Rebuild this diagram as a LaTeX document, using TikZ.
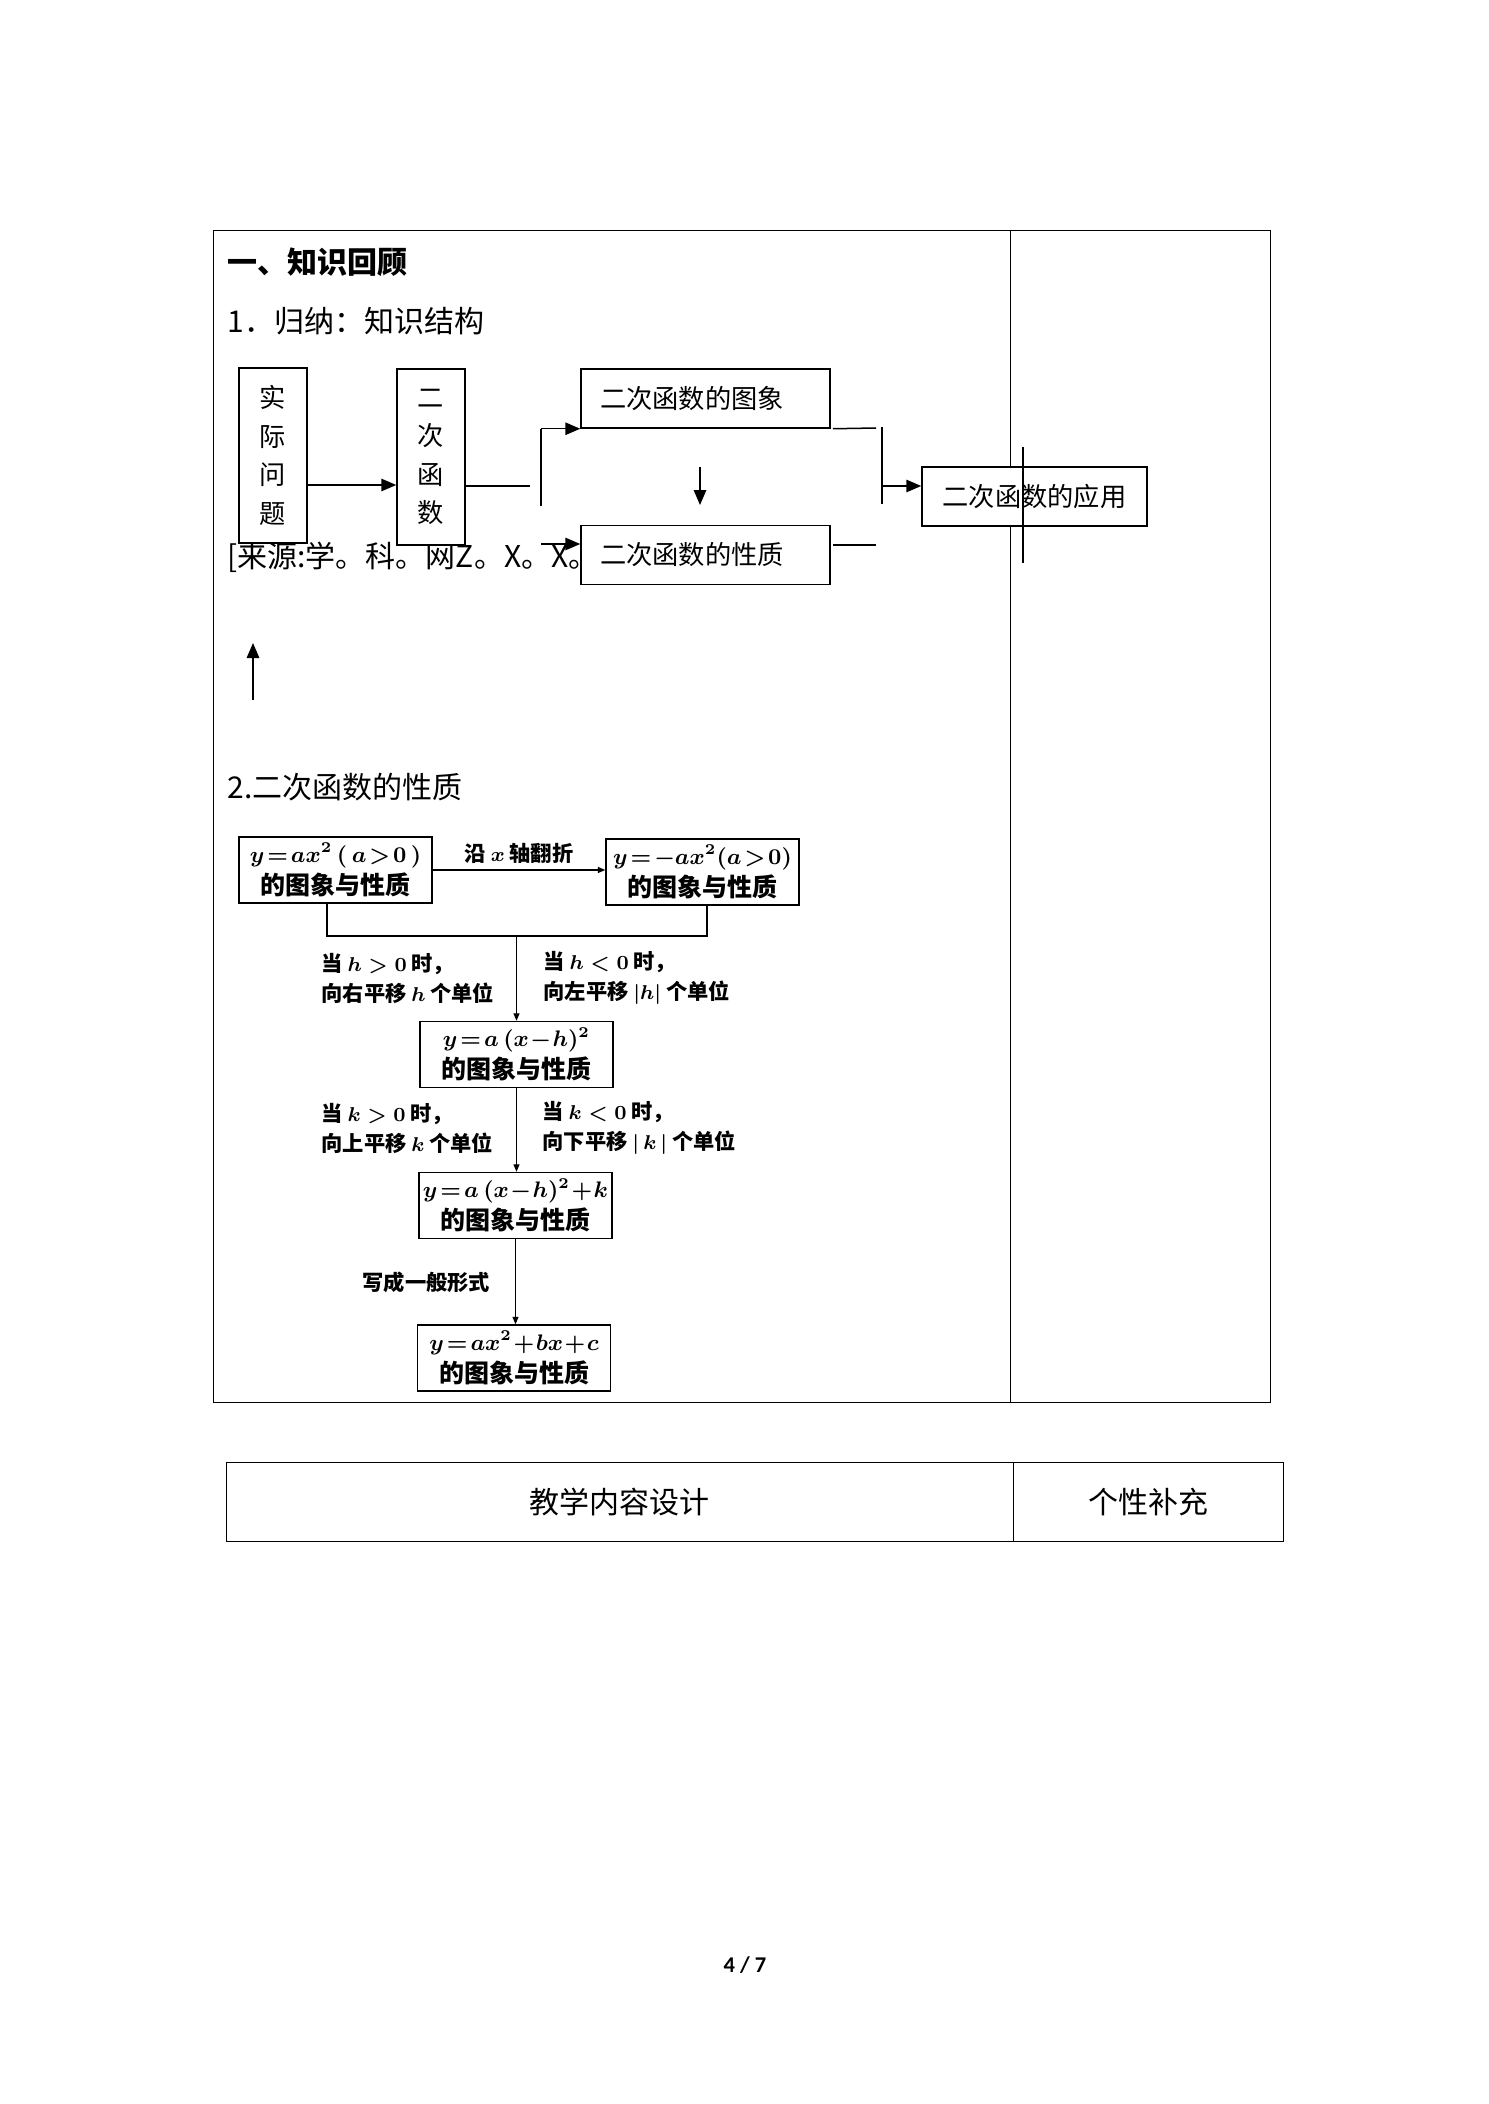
\documentclass[tikz,border=0pt]{standalone}
\usepackage[no-math]{fontspec}
\setmainfont{Noto Sans CJK SC}
\newfontfamily\pagefont{Carlito}
\usetikzlibrary{arrows.meta}
\newcommand\tightmath{\thickmuskip=2mu\relax\medmuskip=1mu\relax}
\newcommand\fml[1]{{\fontsize{8.8}{12.8}\selectfont$#1$}}

\begin{document}
\begin{tikzpicture}[x=0.4pt,y=-0.4pt,
  kbox/.style={draw,line width=0.6pt,fill=white,inner sep=0pt,font=\fontsize{10.5}{15.4}\selectfont},
  pbox/.style={draw,line width=0.55pt,minimum width=77.2pt,minimum height=26.4pt,inner sep=0pt,align=center,
    font=\bfseries\boldmath\fontsize{10}{12.8}\selectfont\tightmath},
  plabel/.style={anchor=west,inner sep=0pt,align=left,font=\bfseries\boldmath\fontsize{8.5}{12}\selectfont},
  txt/.style={anchor=west,inner sep=0pt,font=\fontsize{12}{14}\selectfont},
  karr/.style={line width=0.6pt,-{Triangle[length=6pt,width=5pt]}},
  kline/.style={line width=0.6pt},
  parr/.style={line width=0.45pt,-{Triangle[length=3pt,width=2.4pt]}},
  pline/.style={line width=0.45pt}]
\useasboundingbox (0,0) rectangle (1488,2104);

% page table
\draw[line width=0.4pt] (213,231) rectangle (1270,1402);
\draw[line width=0.4pt] (1010,231) -- (1010,1402);

\node[txt,font=\bfseries\fontsize{12}{14}\selectfont] (t1) at (227,262) {一、知识回顾};
\node[txt] (t2) at (227,321) {1．归纳：知识结构};
\node[txt] (src) at (227,557) {[来源:学。科。网Z。X。X。};

% knowledge structure
\node[kbox,minimum width=27.2pt,minimum height=70pt,align=center] (shi) at (273,455.5) {实\\际\\问\\题};
\node[kbox,minimum width=27.2pt,minimum height=70.4pt,align=center] (er) at (431,457) {二\\次\\函\\数};
\node[kbox,minimum height=23.6pt,text width=84.4pt,inner xsep=7.6pt,align=left] (tu) at (705.5,398.5) {二次函数的图象};
\node[kbox,minimum height=23.6pt,text width=84.4pt,inner xsep=7.6pt,align=left] (xz) at (705.5,555) {二次函数的性质};
\node[kbox,minimum width=90pt,minimum height=23.6pt] (yy) at (1034.5,496.5) {二次函数的应用};

\coordinate (r1) at (0,485);
\draw[karr] (shi.east |- r1) -- (er.west |- r1);
\coordinate (m1) at (530,486);
\draw[kline] (er.east |- m1) -- (m1);
\coordinate (b1) at (541,506);
\draw[kline] (b1) -- (b1 |- tu.south);
\draw[karr] (b1 |- tu.south) -- (tu.south west);
\coordinate (b2) at (541,544);
\draw[karr] (b2) -- (xz.west |- b2);
\coordinate (d1) at (700,467);
\coordinate (d2) at (700,505);
\draw[karr] (d1) -- (d2);

\coordinate (c1) at (876,428);
\draw[kline] ([xshift=0.8pt]tu.south east) -- (c1);
\coordinate (c2) at (882,427);
\coordinate (c3) at (882,504);
\draw[kline] (c2) -- (c3);
\coordinate (c4) at (882,486);
\draw[karr] (c4) -- (yy.west |- c4);
\coordinate (c5) at (876,545);
\draw[kline] ([xshift=0.8pt]xz.east |- c5) -- (c5);
\coordinate (x1) at (1023,447);
\coordinate (x2) at (1023,563);
\draw[kline] (x1) -- (x2);

\coordinate (u1) at (253,700);
\coordinate (u2) at (253,643);
\draw[karr] (u1) -- (u2);

% properties
\node[txt] (t3) at (227,787) {2.二次函数的性质};

\node[pbox] (pa) at (335.5,870) {\fml{y=ax^2\,(\,a>0\,)}\\的图象与性质};
\node[pbox] (pb) at (702.5,872) {\fml{y=-ax^2(a>0)}\\的图象与性质};
\draw[parr] (pa.east) -- (pb.west |- pa.east);
\node[plabel,anchor=center] (fz) at (519,853) {沿 $x$ 轴翻折};

\coordinate (j) at (516.5,936);
\draw[pline] ([xshift=-3.4pt]pa.south) |- (j);
\draw[pline] ([xshift=1.8pt]pb.south) |- (j);
\node[pbox] (pc) at (516.5,1054.5) {\fml{y=a\,(x-h)^2}\\的图象与性质};
\draw[parr] (j) -- (pc.north);
\node[plabel] (h1) at (321,978) {当 $h>0$ 时，\\向右平移 $h$ 个单位};
\node[plabel] (h2) at (543,978) {当 $h<0$ 时，\\向左平移 $|h|$ 个单位};

\node[pbox] (pd) at (515.5,1205.5) {\fml{y=a\,(x-h)^2+k}\\的图象与性质};
\draw[parr] (pc.south) -- (pc.south |- pd.north);
\node[plabel] (k1) at (321,1128) {当 $k>0$ 时，\\向上平移 $k$ 个单位};
\node[plabel] (k2) at (542,1128) {当 $k<0$ 时，\\向下平移 $|\,k\,|$ 个单位};

\node[pbox] (pe) at (514,1358) {\fml{y=ax^2+bx+c}\\的图象与性质};
\draw[parr] (pd.south) -- (pd.south |- pe.north);
\node[plabel] (yb) at (362,1282) {写成一般形式};

% next table
\draw[line width=0.4pt] (226,1462) rectangle (1283,1541);
\draw[line width=0.4pt] (1013,1462) -- (1013,1541);
\node[font=\fontsize{12}{14}\selectfont] (jx) at (619.5,1502) {教学内容设计};
\node[font=\fontsize{12}{14}\selectfont] (gx) at (1148,1502) {个性补充};

\node[font=\pagefont\bfseries\fontsize{9}{11}\selectfont] (pg) at (745,1965) {4 / 7};
\end{tikzpicture}
\end{document}
